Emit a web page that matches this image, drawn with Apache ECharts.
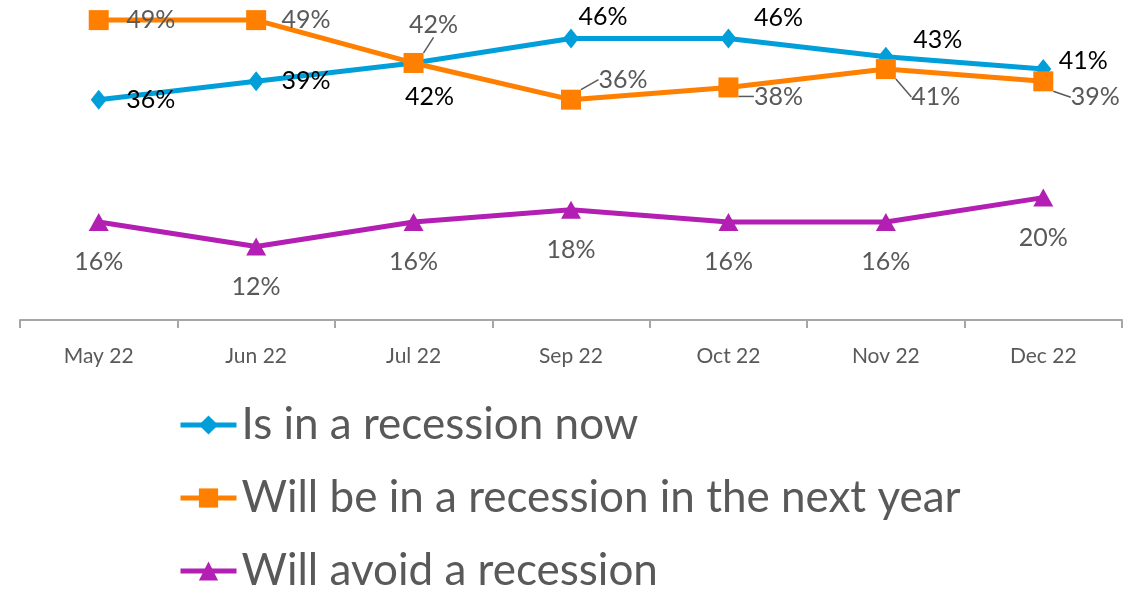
<!DOCTYPE html>
<html>
<head>
<meta charset="utf-8">
<script src="https://cdn.jsdelivr.net/npm/echarts@6/dist/echarts.min.js"></script>
<style>
  html, body { margin: 0; padding: 0; background: #fff; }
  #chart { width: 1148px; height: 589px; }
</style>
</head>
<body>
<div id="chart"></div>
<script>
// ---- data ----
const categories = ['May 22', 'Jun 22', 'Jul 22', 'Sep 22', 'Oct 22', 'Nov 22', 'Dec 22'];
const seriesNames = ['Is in a recession now', 'Will be in a recession in the next year', 'Will avoid a recession'];
const inRecessionNow = [36, 39, 42, 46, 46, 43, 41];
const recessionNextYear = [49, 49, 42, 36, 38, 41, 39];
const avoidRecession = [16, 12, 16, 18, 16, 16, 20];

// ---- label placement (offsets in px from each point) ----
const labelOffsets = [
  [[52, 0], [50, 0], [16, 34], [32, -22], [50, -21], [52, -17], [40, -8]],
  [[52, 0], [50, 0], [20, -38], [52, -20], [50, 9], [50, 28], [52, 16]],
  [[0, 40], [0, 40], [0, 40], [0, 40], [0, 40], [0, 40], [0, 40]]
];
const leaderShown = [
  [false, false, false, false, false, false, false],
  [false, false, true, true, true, true, true],
  [false, false, false, false, false, false, false]
];

const FONT = 'Lato';
const colors = ['#009FDA', '#FF8000', '#B21FB2'];
const labelColors = ['#000000', '#595959', '#595959'];
const symbols = ['diamond', 'rect', 'triangle'];
const symbolSizes = [[16, 20], 20, [20, 18]];
const zOrder = [3, 4, 2];
const dataSets = [inRecessionNow, recessionNextYear, avoidRecession];

const chart = echarts.init(document.getElementById('chart'));

const series = dataSets.map((d, i) => ({
  name: seriesNames[i],
  type: 'line',
  data: d.map((v, j) => ({ value: v, labelLine: { show: leaderShown[i][j] } })),
  symbol: symbols[i],
  symbolSize: symbolSizes[i],
  showAllSymbol: true,
  itemStyle: { color: colors[i] },
  lineStyle: { color: colors[i], width: 5 },
  z: zOrder[i],
  label: {
    show: true,
    position: 'inside',
    formatter: p => p.value + '%',
    fontFamily: FONT,
    fontSize: 25,
    color: labelColors[i]
  },
  labelLine: {
    show: true,
    lineStyle: { color: '#595959', width: 1.5 }
  },
  labelLayout: function (params) {
    const o = labelOffsets[i][params.dataIndex];
    return { dx: o[0], dy: o[1] };
  },
  emphasis: { disabled: true }
}));

chart.setOption({
  animation: false,
  backgroundColor: '#ffffff',
  grid: { left: 20, right: 26, top: 14, bottom: 269, containLabel: false },
  xAxis: {
    type: 'category',
    data: categories,
    boundaryGap: true,
    axisLine: { lineStyle: { color: '#A6A6A6', width: 2 } },
    axisTick: { show: true, length: 8, lineStyle: { color: '#A6A6A6', width: 2 } },
    axisLabel: { color: '#595959', fontFamily: FONT, fontSize: 21, margin: 26 }
  },
  yAxis: {
    type: 'value',
    min: 0,
    max: 50,
    show: false,
    splitLine: { show: false }
  },
  legend: {
    orient: 'vertical',
    left: 173,
    top: 394,
    height: 200,
    itemWidth: 56,
    itemHeight: 24,
    itemGap: 21,
    lineStyle: { width: 5 },
    textStyle: { color: '#595959', fontFamily: FONT, fontSize: 44, lineHeight: 52 },
    data: seriesNames
  },
  series: series
});
</script>
</body>
</html>
